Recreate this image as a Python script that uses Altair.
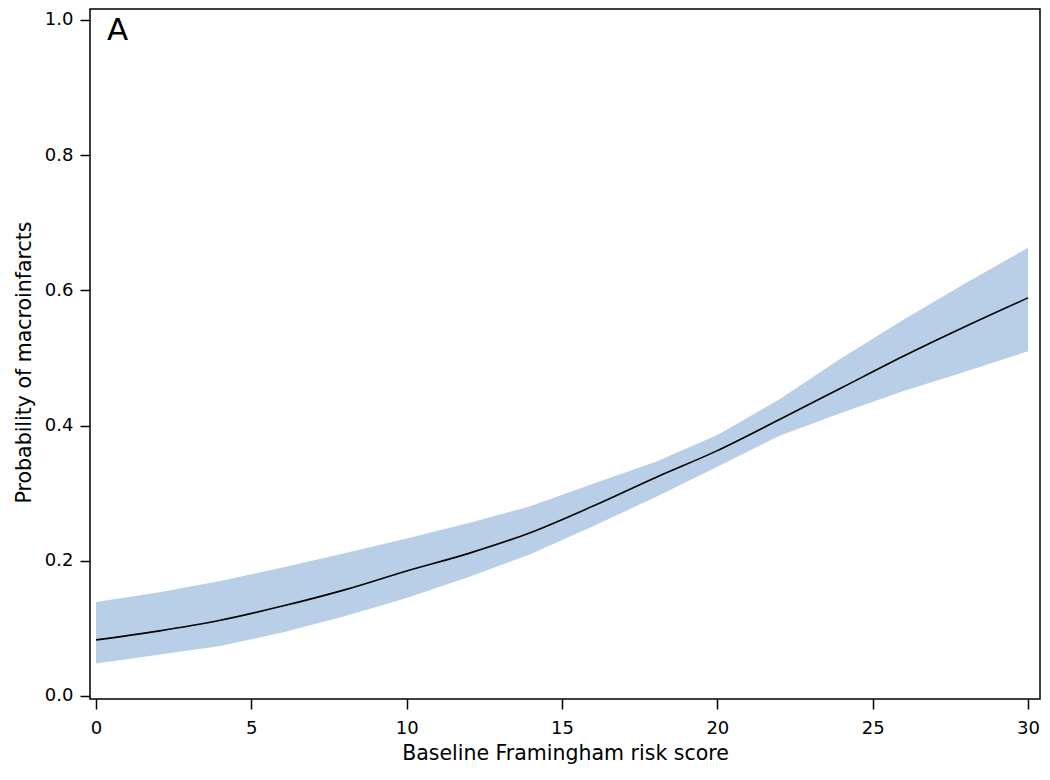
import altair as alt
import pandas as pd

# Data
score = [0, 2, 4, 6, 8, 10, 12, 14, 16, 18, 20, 22, 24, 26, 28, 30]
prob = [0.083, 0.096, 0.112, 0.133, 0.157, 0.185, 0.211, 0.242, 0.281, 0.323, 0.363, 0.409, 0.456, 0.503, 0.547, 0.589]
upper = [0.139, 0.153, 0.170, 0.190, 0.211, 0.233, 0.256, 0.281, 0.314, 0.346, 0.386, 0.439, 0.500, 0.557, 0.611, 0.663]
lower = [0.048, 0.061, 0.074, 0.094, 0.118, 0.145, 0.176, 0.210, 0.251, 0.294, 0.339, 0.385, 0.419, 0.451, 0.480, 0.510]

x_ticks = [0, 5, 10, 15, 20, 25, 30]
y_ticks = [0.0, 0.2, 0.4, 0.6, 0.8, 1.0]

df = pd.DataFrame({"score": score, "prob": prob, "upper": upper, "lower": lower})

FONT = "DejaVu Sans"

xscale = alt.Scale(domain=[-0.193, 30.386], nice=False, zero=False)
yscale = alt.Scale(domain=[-0.00444, 1.01627], nice=False, zero=False)

xaxis = alt.Axis(values=x_ticks, title="Baseline Framingham risk score", grid=False,
                 domain=False, tickSize=10, tickWidth=1.5, tickColor="black",
                 labelFont=FONT, labelFontSize=18, labelColor="black", labelPadding=10,
                 titleFont=FONT, titleFontSize=20.5, titleFontWeight="normal", titleColor="black",
                 titleY=60, titleBaseline="alphabetic")
yaxis = alt.Axis(values=y_ticks, format=".1f", title="Probability of macroinfarcts", grid=False,
                 domain=False, tickSize=10, tickWidth=1.5, tickColor="black",
                 labelFont=FONT, labelFontSize=18, labelColor="black", labelPadding=7,
                 titleFont=FONT, titleFontSize=20.5, titleFontWeight="normal", titleColor="black",
                 titleX=-56, titleY=353)

band = alt.Chart(df).mark_area(color="#b9cfe7", opacity=1).encode(
    x=alt.X("score:Q", scale=xscale, axis=xaxis),
    y=alt.Y("lower:Q", scale=yscale, axis=yaxis),
    y2="upper:Q",
)

line = alt.Chart(df).mark_line(color="black", strokeWidth=1.6, interpolate="monotone").encode(
    x=alt.X("score:Q", scale=xscale),
    y=alt.Y("prob:Q", scale=yscale),
)

label = alt.Chart(pd.DataFrame({"t": ["A"]})).mark_text(
    align="left", baseline="alphabetic", fontSize=31, font=FONT, color="black"
).encode(x=alt.value(17), y=alt.value(31), text="t:N")

chart = alt.layer(band, line, label).properties(
    width=950, height=690,
    autosize=alt.AutoSizeParams(type="none"),
    padding={"left": 82, "top": 1, "right": 2, "bottom": 69},
).configure(background="white").configure_view(stroke="black", strokeWidth=1.5)

chart.save("out.html", embed_options={"renderer": "svg", "actions": False})
